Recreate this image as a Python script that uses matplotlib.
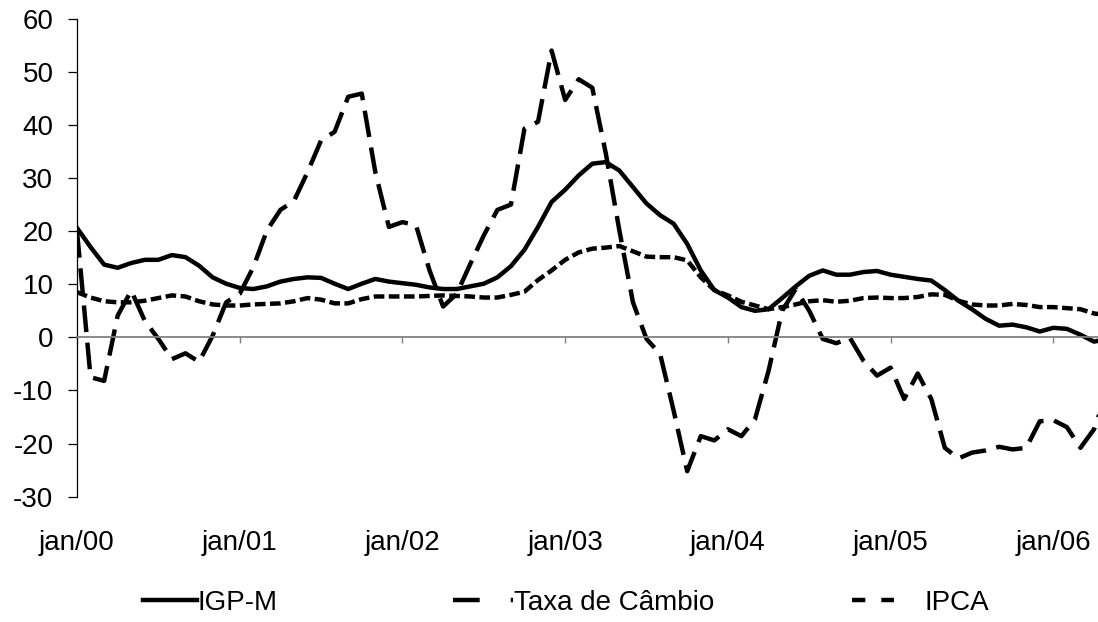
import matplotlib
matplotlib.use('Agg')
import matplotlib.pyplot as plt
from matplotlib.lines import Line2D

plt.rcParams['font.family'] = ['Liberation Sans', 'DejaVu Sans']
plt.rcParams['axes.unicode_minus'] = False

# monthly series, jan/00 onwards
igpm = [20.6, 17.0, 13.7, 13.1, 14.0, 14.6, 14.6, 15.5, 15.1, 13.5, 11.3, 10.1,
        9.3, 9.1, 9.6, 10.5, 11.0, 11.3, 11.2, 10.1, 9.1, 10.1, 11.0, 10.5,
        10.2, 9.9, 9.4, 9.1, 9.1, 9.6, 10.1, 11.3, 13.4, 16.5, 20.8, 25.5,
        27.8, 30.5, 32.7, 33.0, 31.4, 28.3, 25.2, 23.0, 21.4, 17.6, 12.6, 8.9,
        7.5, 5.7, 5.0, 5.3, 7.4, 9.6, 11.6, 12.6, 11.8, 11.8, 12.3, 12.5,
        11.8, 11.4, 11.0, 10.7, 8.9, 6.9, 5.3, 3.5, 2.2, 2.4, 1.9, 1.1,
        1.8, 1.6, 0.5, -0.8, -0.3]
cambio = [20.0, -7.5, -8.2, 4.1, 8.8, 3.1, -0.3, -4.1, -3.0, -4.6, 0.3, 6.6,
          8.2, 13.2, 20.1, 24.0, 25.7, 31.1, 37.1, 38.7, 45.3, 45.9, 31.1, 20.8,
          21.7, 21.1, 12.6, 5.8, 8.2, 13.8, 19.2, 24.0, 25.0, 39.3, 40.6, 54.0,
          44.7, 48.6, 47.0, 34.6, 20.1, 6.6, -0.3, -3.1, -13.8, -25.2, -18.6, -19.4,
          -17.3, -18.6, -15.4, -6.3, 5.0, 9.1, 5.0, -0.3, -1.1, -0.1, -4.4, -7.2,
          -5.7, -11.6, -6.8, -11.6, -20.8, -22.8, -21.7, -21.3, -20.6, -21.1, -20.8, -15.8,
          -15.6, -16.9, -20.8, -17.3, -10.0]
ipca = [8.5, 7.5, 6.8, 6.6, 6.6, 6.9, 7.4, 7.9, 7.7, 6.8, 6.2, 6.0,
        6.0, 6.2, 6.3, 6.4, 6.8, 7.4, 7.1, 6.4, 6.4, 7.2, 7.7, 7.7,
        7.7, 7.7, 7.8, 7.9, 7.8, 7.7, 7.5, 7.5, 8.0, 8.6, 10.8, 12.6,
        14.6, 16.0, 16.7, 16.9, 17.2, 16.2, 15.2, 15.1, 15.1, 14.5, 11.3, 8.9,
        7.9, 6.7, 6.0, 5.3, 5.7, 6.2, 6.8, 7.0, 6.7, 6.9, 7.4, 7.5,
        7.4, 7.4, 7.6, 8.1, 8.0, 6.9, 6.2, 6.0, 6.0, 6.3, 6.1, 5.7,
        5.7, 5.5, 5.3, 4.5, 4.2]
tick_labels = ['jan/00', 'jan/01', 'jan/02', 'jan/03', 'jan/04', 'jan/05', 'jan/06']
names = ['IGP-M', 'Taxa de Câmbio', 'IPCA']

months = list(range(len(igpm)))

fig = plt.figure(figsize=(10.98, 6.22), dpi=100)
ax = fig.add_axes([77 / 1098, 1 - 496.7 / 622, 1021 / 1098, 478 / 622])

lw = 3.2
styles = [None, (6.0, 2.4), (2.4, 1.0)]
for vals, dash in zip([igpm, cambio, ipca], styles):
    ln, = ax.plot(months, vals, color='black', lw=lw)
    if dash:
        ln.set_dashes(dash)

ax.set_xlim(0, 1021 / 13.56)
ax.set_ylim(-30, 60)
ax.set_yticks(range(-30, 61, 10))

ax.spines['top'].set_visible(False)
ax.spines['right'].set_visible(False)
ax.spines['left'].set_linewidth(0.9)
ax.spines['bottom'].set_position(('data', 0))
ax.spines['bottom'].set_color('#808080')
ax.spines['bottom'].set_linewidth(1.3)

ax.set_xticks(range(0, 73, 12))
ax.tick_params(axis='x', direction='out', length=4, width=1, color='#808080',
               labelbottom=False)
ax.tick_params(axis='y', direction='out', length=6.5, width=0.9, pad=10.5,
               labelsize=20)

sec = ax.secondary_xaxis(0)
sec.spines['bottom'].set_visible(False)
sec.set_xticks(range(0, 73, 12))
sec.set_xticklabels(tick_labels)
sec.tick_params(axis='x', length=0, pad=24, labelsize=20)

# legend entries placed one by one along the bottom (excel-like handles)
leg_x = [143, 453, 852]
leg_dash = [None, (6.0, 7.0), (3.0, 3.6)]
leg_len = [1.95, 2.15, 1.5]
leg_pad = [0.0, 0.05, 1.1]
for name, dash, x, hl, hp in zip(names, leg_dash, leg_x, leg_len, leg_pad):
    h = Line2D([], [], color='black', lw=lw)
    if dash:
        h.set_dashes(dash)
    fig.legend([h], [name], loc='center left', bbox_to_anchor=(x / 1098, 1 - 603 / 622),
               frameon=False, fontsize=20, handlelength=hl, handletextpad=hp,
               borderpad=0, borderaxespad=0)

fig.savefig('out.png', dpi=100)
